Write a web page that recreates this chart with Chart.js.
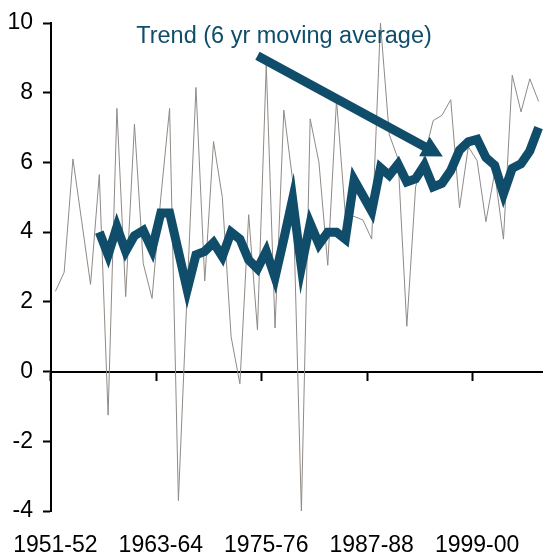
<!DOCTYPE html>
<html>
<head>
<meta charset="utf-8">
<script src="https://cdn.jsdelivr.net/npm/chart.js@4.4.1/dist/chart.umd.min.js"></script>
<style>
  html, body { margin: 0; padding: 0; background: #fff; }
  canvas { display: block; }
</style>
</head>
<body>
<canvas id="trendChart" width="543" height="559"></canvas>
<script>
// financial years on the category axis
var years = [
	'1951-52', '1952-53', '1953-54', '1954-55', '1955-56', '1956-57', '1957-58', '1958-59',
	'1959-60', '1960-61', '1961-62', '1962-63', '1963-64', '1964-65', '1965-66', '1966-67',
	'1967-68', '1968-69', '1969-70', '1970-71', '1971-72', '1972-73', '1973-74', '1974-75',
	'1975-76', '1976-77', '1977-78', '1978-79', '1979-80', '1980-81', '1981-82', '1982-83',
	'1983-84', '1984-85', '1985-86', '1986-87', '1987-88', '1988-89', '1989-90', '1990-91',
	'1991-92', '1992-93', '1993-94', '1994-95', '1995-96', '1996-97', '1997-98', '1998-99',
	'1999-00', '2000-01', '2001-02', '2002-03', '2003-04', '2004-05', '2005-06', '2006-07'
];

// labels actually printed under the axis
var shownYears = ['1951-52', '1963-64', '1975-76', '1987-88', '1999-00'];

// annual values (thin grey line)
var annual = [
	2.3, 2.85, 6.1, 4.3, 2.5, 5.65, -1.25, 7.55,
	2.15, 7.1, 3.1, 2.1, 5.0, 7.55, -3.7, 2.3,
	8.15, 2.6, 6.6, 5.0, 1.0, -0.35, 4.5, 1.2,
	8.8, 1.25, 7.5, 5.5, -4.0, 7.25, 6.0, 3.05,
	7.8, 4.5, 4.45, 4.35, 3.8, 10.0, 6.8, 6.1,
	1.3, 5.3, 6.2, 7.2, 7.35, 7.8, 4.7, 6.45,
	6.05, 4.3, 5.7, 3.8, 8.5, 7.45, 8.4, 7.75
];

// 6 yr moving average (thick line), starts with the sixth year
var trend = [
	null, null, null, null, null, 4.0, 3.35, 4.15,
	3.45, 3.9, 4.05, 3.5, 4.55, 4.55, 3.45, 2.35,
	3.35, 3.45, 3.7, 3.3, 4.0, 3.8, 3.2, 2.95,
	3.45, 2.7, 3.8, 4.95, 3.0, 4.25, 3.65, 4.0,
	4.0, 3.8, 5.5, 5.05, 4.6, 5.85, 5.63, 5.95,
	5.44, 5.53, 5.92, 5.3, 5.4, 5.77, 6.35, 6.59,
	6.66, 6.14, 5.92, 5.1, 5.83, 5.96, 6.33, 7.0
];

var yTicks = [-4, -2, 0, 2, 4, 6, 8, 10];

var TEAL = '#0f4d6a';
var GREY = '#8f8a86';
var FONT = '"Liberation Sans", Arial, sans-serif';

// note placement in data units (category index, value)
var note = {
	text: 'Trend (6 yr moving average)',
	textAt: [9.2, 9.42],
	arrowFrom: [23.0, 9.06],
	arrowTo: [44.1, 6.17]
};

var notePlugin = {
	id: 'trendNote',
	afterDraw: function(chart) {
		var ctx = chart.ctx;
		var sx = chart.scales.x;
		var sy = chart.scales.y;

		ctx.save();
		ctx.fillStyle = TEAL;
		ctx.strokeStyle = TEAL;
		ctx.font = '23.5px ' + FONT;
		ctx.textAlign = 'left';
		ctx.textBaseline = 'alphabetic';
		ctx.fillText(note.text, sx.getPixelForValue(note.textAt[0]), sy.getPixelForValue(note.textAt[1]));

		var x1 = sx.getPixelForValue(note.arrowFrom[0]);
		var y1 = sy.getPixelForValue(note.arrowFrom[1]);
		var x2 = sx.getPixelForValue(note.arrowTo[0]);
		var y2 = sy.getPixelForValue(note.arrowTo[1]);
		var ang = Math.atan2(y2 - y1, x2 - x1);
		var head = 21, half = 11;
		var bx = x2 - head * Math.cos(ang);
		var by = y2 - head * Math.sin(ang);

		ctx.lineWidth = 9;
		ctx.lineCap = 'butt';
		ctx.beginPath();
		ctx.moveTo(x1, y1);
		ctx.lineTo(bx + Math.cos(ang), by + Math.sin(ang));
		ctx.stroke();

		ctx.beginPath();
		ctx.moveTo(x2, y2);
		ctx.lineTo(bx - half * Math.sin(ang), by + half * Math.cos(ang));
		ctx.lineTo(bx + half * Math.sin(ang), by - half * Math.cos(ang));
		ctx.closePath();
		ctx.fill();
		ctx.restore();
	}
};

function isShown(index) {
	return shownYears.indexOf(years[index]) >= 0;
}

new Chart(document.getElementById('trendChart').getContext('2d'), {
	type: 'line',
	data: {
		labels: years,
		datasets: [{
			label: 'Trend (6 yr moving average)',
			data: trend,
			borderColor: TEAL,
			borderWidth: 9,
			borderJoinStyle: 'miter',
			borderCapStyle: 'butt',
			pointRadius: 0,
			tension: 0,
			fill: false
		}, {
			label: 'Annual',
			data: annual,
			borderColor: GREY,
			borderWidth: 1,
			pointRadius: 0,
			tension: 0,
			fill: false
		}]
	},
	options: {
		responsive: false,
		animation: false,
		devicePixelRatio: 1,
		layout: { padding: { top: 23, left: 0, right: 0, bottom: 0 } },
		plugins: {
			legend: { display: false },
			tooltip: { enabled: false }
		},
		scales: {
			x: {
				type: 'category',
				position: 'bottom',
				offset: true,
				grid: { display: false, drawTicks: false },
				border: { display: false },
				ticks: {
					autoSkip: false,
					maxRotation: 0,
					padding: 21,
					color: '#000',
					font: { family: FONT, size: 23 },
					callback: function(value, index) {
						return isShown(index) ? years[index] : '';
					}
				},
				afterFit: function(scale) {
					scale.height = 48;
					scale.paddingLeft = 0;
					scale.paddingRight = 0;
				}
			},
			xZero: {
				type: 'category',
				axis: 'x',
				position: { y: 0 },
				offset: true,
				grid: {
					offset: true,
					drawOnChartArea: false,
					drawTicks: true,
					tickLength: 8,
					tickWidth: 2,
					tickColor: function(c) {
						return isShown(c.index) ? '#000' : 'rgba(0,0,0,0)';
					}
				},
				border: { display: true, color: '#000', width: 2 },
				ticks: { display: false, autoSkip: false },
				afterFit: function(scale) {
					scale.height = 0;
					scale.paddingLeft = 0;
					scale.paddingRight = 0;
				}
			},
			y: {
				position: 'left',
				min: yTicks[0],
				max: yTicks[yTicks.length - 1],
				afterBuildTicks: function(scale) {
					scale.ticks = yTicks.map(function(v) { return { value: v }; });
				},
				grid: {
					drawOnChartArea: false,
					drawTicks: true,
					tickLength: 8,
					tickWidth: 2,
					tickColor: '#000'
				},
				border: { display: true, color: '#000', width: 2 },
				ticks: {
					padding: 10,
					color: '#000',
					font: { family: FONT, size: 23 }
				},
				afterFit: function(scale) {
					scale.width = 51;
					scale.paddingTop = 0;
					scale.paddingBottom = 0;
				}
			}
		}
	},
	plugins: [notePlugin]
});
</script>
</body>
</html>
